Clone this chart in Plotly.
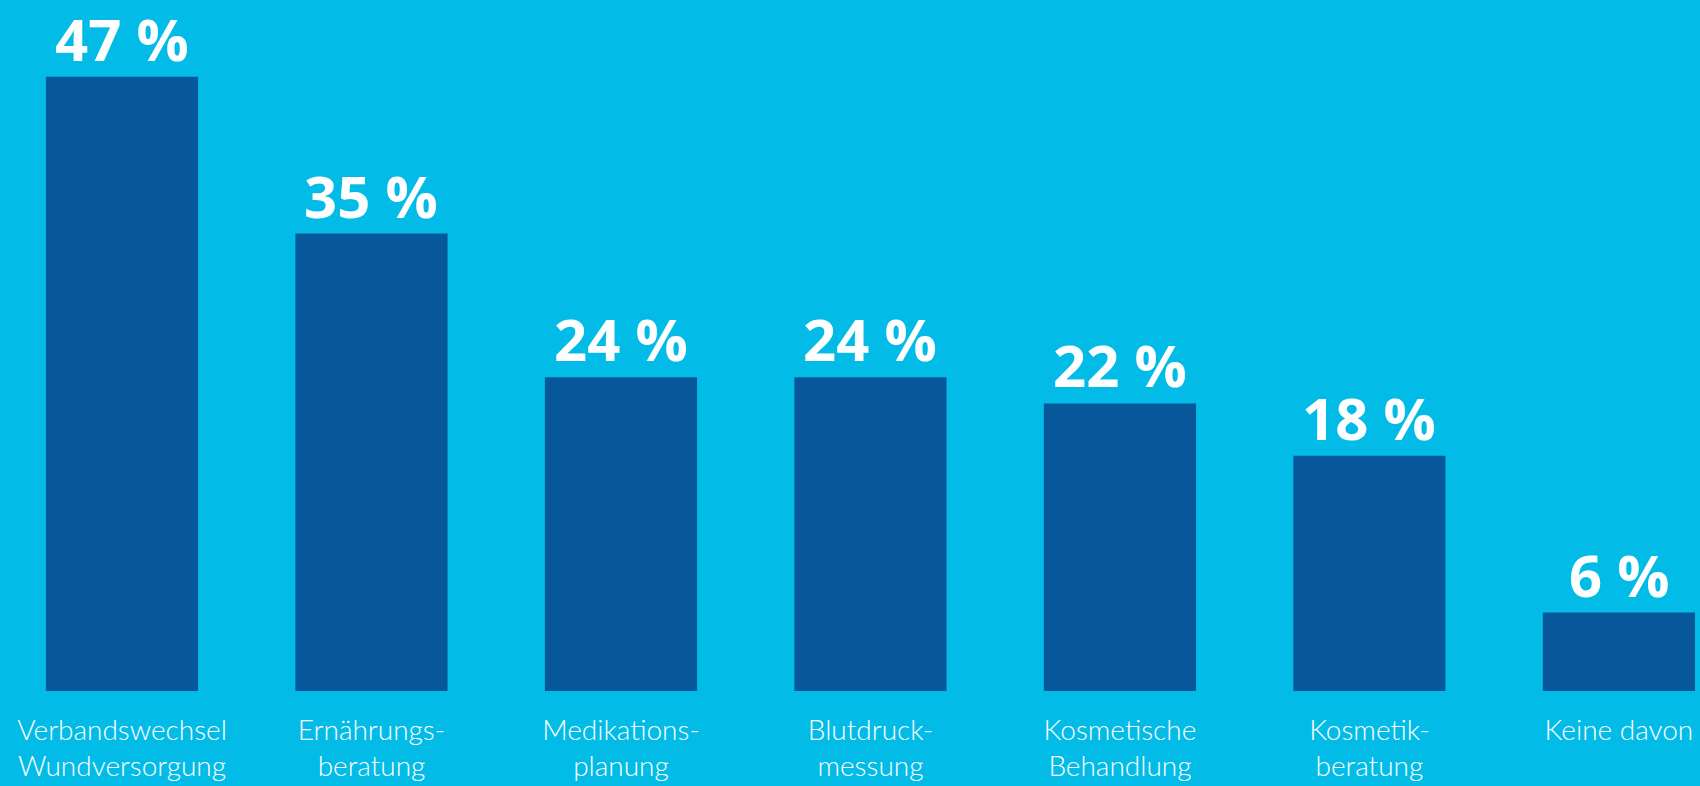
import plotly.graph_objects as go

categories = [
    "Verbandswechsel<br>Wundversorgung",
    "Ernährungs-<br>beratung",
    "Medikations-<br>planung",
    "Blutdruck-<br>messung",
    "Kosmetische<br>Behandlung",
    "Kosmetik-<br>beratung",
    "Keine davon",
]
values = [47, 35, 24, 24, 22, 18, 6]
value_labels = [f"{v}\u00a0%" for v in values]

BG = "#02BCE7"
BAR = "#07589B"

fig = go.Figure()
fig.add_trace(
    go.Bar(
        x=categories,
        y=values,
        width=0.61,
        marker=dict(color=BAR, line=dict(width=0)),
        hoverinfo="skip",
    )
)

# value labels above the bars
for cat, val, lab in zip(categories, values, value_labels):
    fig.add_annotation(
        x=cat, y=val, text=f"<b>{lab}</b>",
        xanchor="center", yanchor="bottom", yshift=-3,
        showarrow=False,
        font=dict(family="Open Sans", size=58, color="white"),
    )

fig.update_layout(
    width=1700,
    height=786,
    paper_bgcolor=BG,
    plot_bgcolor=BG,
    margin=dict(l=0, r=0, t=0, b=95),
    showlegend=False,
    xaxis=dict(
        range=[-0.489, 6.325],
        showgrid=False,
        zeroline=False,
        showline=False,
        ticks="",
        tickfont=dict(family="Lato", size=28, color="white", weight=300),
        ticklabelstandoff=20,
    ),
    yaxis=dict(
        range=[0, 52.87],
        visible=False,
    ),
)

fig.write_html(
    "out.html",
    config={"displayModeBar": False},
    post_script="document.body.style.margin='0';",
)
